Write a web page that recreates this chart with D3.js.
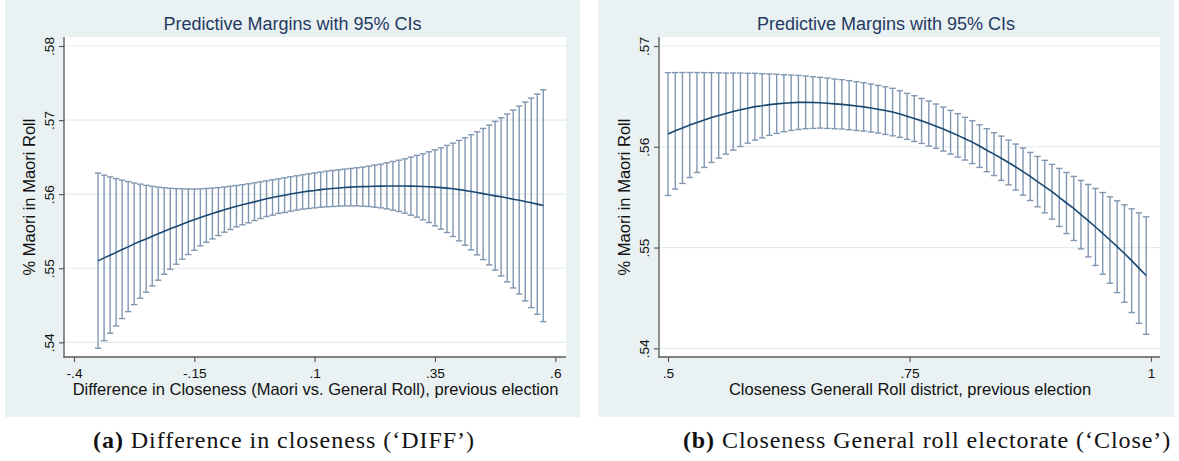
<!DOCTYPE html>
<html><head><meta charset="utf-8">
<script src="https://cdn.jsdelivr.net/npm/d3@7"></script>
<style>html,body{margin:0;padding:0;background:#fff;}svg{display:block;}</style>
</head><body>
<script>
// ---------- Data ----------
const titleText = "Predictive Margins with 95% CIs";
const yTitleText = "% Maori in Maori Roll";

// Panel (a): Difference in closeness
const diffX = [-0.35,-0.3375,-0.325,-0.3125,-0.3,-0.2875,-0.275,-0.2625,-0.25,-0.2375,-0.225,-0.2125,-0.2,-0.1875,-0.175,-0.1625,-0.15,-0.1375,-0.125,-0.1125,-0.1,-0.0875,-0.075,-0.0625,-0.05,-0.0375,-0.025,-0.0125,0,0.0125,0.025,0.0375,0.05,0.0625,0.075,0.0875,0.1,0.1125,0.125,0.1375,0.15,0.1625,0.175,0.1875,0.2,0.2125,0.225,0.2375,0.25,0.2625,0.275,0.2875,0.3,0.3125,0.325,0.3375,0.35,0.3625,0.375,0.3875,0.4,0.4125,0.425,0.4375,0.45,0.4625,0.475,0.4875,0.5,0.5125,0.525,0.5375,0.55,0.5625,0.575];
const diffMean = [0.55099,0.55140,0.55176,0.55214,0.55252,0.55288,0.55329,0.55365,0.55396,0.55432,
0.55464,0.55500,0.55532,0.55563,0.55595,0.55626,0.55655,0.55685,0.55712,0.55739,
0.55764,0.55788,0.55813,0.55836,0.55856,0.55876,0.55896,0.55917,0.55937,0.55955,
0.55971,0.55986,0.56002,0.56016,0.56029,0.56041,0.56050,0.56061,0.56070,0.56077,
0.56083,0.56090,0.56095,0.56099,0.56101,0.56104,0.56106,0.56108,0.56110,0.56110,
0.56110,0.56110,0.56108,0.56106,0.56104,0.56099,0.56095,0.56088,0.56081,0.56072,
0.56061,0.56050,0.56036,0.56023,0.56007,0.55991,0.55977,0.55964,0.55948,0.55932,
0.55917,0.55901,0.55883,0.55865,0.55847];
const diffLower = [0.53919,0.54023,0.54122,0.54221,0.54320,0.54414,0.54509,0.54595,0.54676,0.54761,
0.54838,0.54919,0.54986,0.55054,0.55122,0.55185,0.55243,0.55302,0.55351,0.55396,
0.55441,0.55486,0.55523,0.55559,0.55586,0.55613,0.55644,0.55671,0.55698,0.55716,
0.55739,0.55752,0.55770,0.55784,0.55797,0.55806,0.55815,0.55824,0.55829,0.55833,
0.55838,0.55842,0.55842,0.55842,0.55838,0.55833,0.55824,0.55815,0.55802,0.55784,
0.55766,0.55743,0.55716,0.55689,0.55653,0.55617,0.55572,0.55527,0.55482,0.55428,
0.55369,0.55311,0.55248,0.55180,0.55117,0.55045,0.54973,0.54896,0.54815,0.54734,
0.54653,0.54559,0.54468,0.54378,0.54279];
const diffUpper = [0.56284,0.56257,0.56232,0.56209,0.56189,0.56169,0.56151,0.56135,0.56119,0.56106,
0.56095,0.56086,0.56079,0.56074,0.56072,0.56070,0.56070,0.56072,0.56077,0.56081,
0.56088,0.56097,0.56106,0.56117,0.56128,0.56140,0.56153,0.56167,0.56180,0.56194,
0.56207,0.56221,0.56234,0.56248,0.56261,0.56275,0.56286,0.56297,0.56311,0.56320,
0.56329,0.56338,0.56347,0.56356,0.56365,0.56378,0.56392,0.56405,0.56423,0.56441,
0.56459,0.56477,0.56500,0.56523,0.56545,0.56572,0.56599,0.56626,0.56658,0.56689,
0.56725,0.56761,0.56802,0.56842,0.56887,0.56932,0.56982,0.57032,0.57081,0.57135,
0.57189,0.57243,0.57297,0.57351,0.57410];
const diffXTicks = [-0.4, -0.15, 0.1, 0.35, 0.6];
const diffXTickLabels = ["-.4", "-.15", ".1", ".35", ".6"];
const diffYTicks = [0.54, 0.55, 0.56, 0.57, 0.58];
const diffYTickLabels = [".54", ".55", ".56", ".57", ".58"];
const diffXTitle = "Difference in Closeness (Maori vs. General Roll), previous election";
const diffCaptionTag = "(a)";
const diffCaption = " Difference in closeness (\u2018DIFF\u2019)";

// Panel (b): Closeness General roll
const closeX = [0.5,0.5075,0.515,0.5225,0.53,0.5375,0.545,0.5525,0.56,0.5675,0.575,0.5825,0.59,0.5975,0.605,0.6125,0.62,0.6275,0.635,0.6425,0.65,0.6575,0.665,0.6725,0.68,0.6875,0.695,0.7025,0.71,0.7175,0.725,0.7325,0.74,0.7475,0.755,0.7625,0.77,0.7775,0.785,0.7925,0.8,0.8075,0.815,0.8225,0.83,0.8375,0.845,0.8525,0.86,0.8675,0.875,0.8825,0.89,0.8975,0.905,0.9125,0.92,0.9275,0.935,0.9425,0.95,0.9575,0.965,0.9725,0.98,0.9875,0.995];
const closeMean = [0.56126,0.56158,0.56187,0.56216,0.56241,0.56266,0.56290,0.56311,0.56330,0.56350,
0.56368,0.56383,0.56398,0.56407,0.56418,0.56426,0.56432,0.56437,0.56441,0.56441,
0.56439,0.56437,0.56432,0.56426,0.56421,0.56413,0.56404,0.56396,0.56385,0.56373,
0.56360,0.56345,0.56325,0.56302,0.56280,0.56257,0.56231,0.56204,0.56176,0.56144,
0.56113,0.56080,0.56046,0.56007,0.55966,0.55927,0.55886,0.55844,0.55799,0.55754,
0.55706,0.55654,0.55605,0.55554,0.55497,0.55442,0.55388,0.55326,0.55267,0.55204,
0.55141,0.55075,0.55009,0.54941,0.54870,0.54796,0.54722];
const closeLower = [0.55517,0.55580,0.55636,0.55695,0.55745,0.55795,0.55844,0.55887,0.55927,0.55967,
0.56003,0.56036,0.56066,0.56089,0.56113,0.56133,0.56149,0.56162,0.56172,0.56179,
0.56182,0.56185,0.56182,0.56179,0.56176,0.56169,0.56162,0.56156,0.56146,0.56136,
0.56123,0.56109,0.56093,0.56073,0.56053,0.56033,0.56007,0.55984,0.55957,0.55927,
0.55897,0.55868,0.55833,0.55795,0.55753,0.55714,0.55666,0.55622,0.55570,0.55520,
0.55467,0.55404,0.55344,0.55282,0.55209,0.55139,0.55070,0.54986,0.54907,0.54822,
0.54735,0.54646,0.54553,0.54457,0.54355,0.54248,0.54139];
const closeUpper = [0.56735,0.56736,0.56737,0.56737,0.56737,0.56736,0.56735,0.56734,0.56732,0.56732,
0.56732,0.56729,0.56729,0.56725,0.56722,0.56719,0.56715,0.56712,0.56709,0.56702,
0.56695,0.56689,0.56682,0.56672,0.56666,0.56656,0.56646,0.56636,0.56623,0.56609,
0.56596,0.56580,0.56556,0.56530,0.56507,0.56480,0.56454,0.56424,0.56394,0.56361,
0.56328,0.56292,0.56258,0.56218,0.56179,0.56139,0.56106,0.56066,0.56027,0.55987,
0.55944,0.55904,0.55865,0.55825,0.55785,0.55745,0.55706,0.55666,0.55626,0.55586,
0.55546,0.55503,0.55464,0.55424,0.55384,0.55344,0.55305];
const closeXTicks = [0.5, 0.75, 1];
const closeXTickLabels = [".5", ".75", "1"];
const closeYTicks = [0.54, 0.55, 0.56, 0.57];
const closeYTickLabels = [".54", ".55", ".56", ".57"];
const closeXTitle = "Closeness Generall Roll district, previous election";
const closeCaptionTag = "(b)";
const closeCaption = " Closeness General roll electorate (\u2018Close\u2019)";

// ---------- Drawing ----------
const W = 1179, H = 461;
const svg = d3.select("body").append("svg").attr("width", W).attr("height", H);

const SANS = "'Liberation Sans', Arial, Helvetica, sans-serif";
const SERIF = "'Liberation Serif', 'Times New Roman', serif";
const BG = "#eaf1f3", GRID = "#e2ebef", AXIS = "#5a5a5a";
const CI = "#8097b1", LINE = "#1a476f", TITLE = "#1f3a5f";

const panels = [
  { bg: [5, 580], plot: [65, 566], axisX: 64,
    xDom: [-0.4, 0.6], xRng: [74, 555.3], yDom: [0.54, 0.58], yRng: [342.3, 46],
    xs: diffX, mean: diffMean, lo: diffLower, hi: diffUpper,
    xt: diffXTicks, xtl: diffXTickLabels, yt: diffYTicks, ytl: diffYTickLabels,
    xTitle: diffXTitle, capTag: diffCaptionTag, cap: diffCaption, capCenter: 284, capWidth: 382 },
  { bg: [598, 1174], plot: [660, 1160], axisX: 659,
    xDom: [0.5, 1], xRng: [668, 1151], yDom: [0.54, 0.57], yRng: [348.3, 46],
    xs: closeX, mean: closeMean, lo: closeLower, hi: closeUpper,
    xt: closeXTicks, xtl: closeXTickLabels, yt: closeYTicks, ytl: closeYTickLabels,
    xTitle: closeXTitle, capTag: closeCaptionTag, cap: closeCaption, capCenter: 927, capWidth: 488 }
];

const PT = 37, PB = 357;

panels.forEach(p => {
  const g = svg.append("g");
  const x = d3.scaleLinear().domain(p.xDom).range(p.xRng);
  const y = d3.scaleLinear().domain(p.yDom).range(p.yRng);

  g.append("rect").attr("x", p.bg[0]).attr("y", 0)
    .attr("width", p.bg[1] - p.bg[0]).attr("height", 417).attr("fill", BG);
  g.append("rect").attr("x", p.plot[0]).attr("y", PT)
    .attr("width", p.plot[1] - p.plot[0]).attr("height", PB - PT).attr("fill", "#fff");

  // gridlines
  g.selectAll(".grid").data(p.yt).join("line")
    .attr("x1", p.plot[0]).attr("x2", p.plot[1])
    .attr("y1", d => y(d)).attr("y2", d => y(d))
    .attr("stroke", GRID).attr("stroke-width", 1.2);

  // CI bars
  const idx = d3.range(p.xs.length);
  const ci = g.append("g").attr("stroke", CI).attr("stroke-width", 1.4).attr("fill", "none");
  ci.selectAll("line.v").data(idx).join("line").attr("class", "v")
    .attr("x1", i => x(p.xs[i])).attr("x2", i => x(p.xs[i]))
    .attr("y1", i => y(p.lo[i])).attr("y2", i => y(p.hi[i]));
  const cw = 3.2;
  ci.selectAll("line.ct").data(idx).join("line").attr("class", "ct")
    .attr("x1", i => x(p.xs[i]) - cw).attr("x2", i => x(p.xs[i]) + cw)
    .attr("y1", i => y(p.hi[i])).attr("y2", i => y(p.hi[i]));
  ci.selectAll("line.cb").data(idx).join("line").attr("class", "cb")
    .attr("x1", i => x(p.xs[i]) - cw).attr("x2", i => x(p.xs[i]) + cw)
    .attr("y1", i => y(p.lo[i])).attr("y2", i => y(p.lo[i]));

  // mean line
  g.append("path").datum(idx)
    .attr("d", d3.line().x(i => x(p.xs[i])).y(i => y(p.mean[i])))
    .attr("fill", "none").attr("stroke", LINE).attr("stroke-width", 1.6);

  // axes
  const xa = g.append("g").attr("transform", `translate(0,${PB})`)
    .call(d3.axisBottom(x).tickValues(p.xt).tickFormat((d, i) => p.xtl[i])
      .tickSize(5).tickSizeOuter(0));
  xa.select(".domain").remove();
  xa.selectAll(".tick line").attr("stroke", AXIS).attr("stroke-width", 1.2);
  xa.selectAll(".tick text").attr("y", 20.5).attr("dy", 0)
    .attr("font-family", SANS).attr("font-size", 13.7).attr("fill", "#111");

  const ya = g.append("g").attr("transform", `translate(${p.axisX},0)`)
    .call(d3.axisLeft(y).tickValues(p.yt).tickFormat((d, i) => p.ytl[i])
      .tickSize(5).tickSizeOuter(0));
  ya.select(".domain").remove();
  ya.selectAll(".tick line").attr("stroke", AXIS).attr("stroke-width", 1.2);
  ya.selectAll(".tick text").attr("x", 0).attr("dy", 0).attr("text-anchor", "middle")
    .attr("transform", "translate(-10.5,0) rotate(-90)")
    .attr("font-family", SANS).attr("font-size", 13.7).attr("fill", "#111");

  g.append("line").attr("x1", p.axisX).attr("x2", p.axisX).attr("y1", PT).attr("y2", PB + 0.6)
    .attr("stroke", AXIS).attr("stroke-width", 1.3);
  g.append("line").attr("x1", p.axisX - 0.6).attr("x2", p.plot[1]).attr("y1", PB).attr("y2", PB)
    .attr("stroke", AXIS).attr("stroke-width", 1.3);

  // titles
  g.append("text").attr("x", (p.bg[0] + p.bg[1]) / 2).attr("y", 30)
    .attr("text-anchor", "middle").attr("font-family", SANS).attr("font-size", 18)
    .attr("fill", TITLE).text(titleText);
  g.append("text").attr("x", (p.plot[0] + p.plot[1]) / 2).attr("y", 395)
    .attr("text-anchor", "middle").attr("font-family", SANS).attr("font-size", 16.5)
    .attr("fill", "#111").text(p.xTitle);
  g.append("text").attr("transform", `translate(${p.axisX - 29},${(PT + PB) / 2}) rotate(-90)`)
    .attr("text-anchor", "middle").attr("font-family", SANS).attr("font-size", 16.5)
    .attr("fill", "#111").text(yTitleText);

  // caption: 24px serif, widened with letter spacing to the reference width
  const cap = svg.append("text").attr("x", p.capCenter).attr("y", 448)
    .attr("text-anchor", "middle").attr("font-family", SERIF).attr("font-size", 24).attr("fill", "#111");
  cap.append("tspan").attr("font-weight", "bold").text(p.capTag);
  cap.append("tspan").text(p.cap);
  const w = cap.node().getComputedTextLength();
  const n = (p.capTag + p.cap).length;
  if (w > 0 && w < p.capWidth) cap.attr("letter-spacing", ((p.capWidth - w) / n).toFixed(2));
});
</script>
</body></html>
